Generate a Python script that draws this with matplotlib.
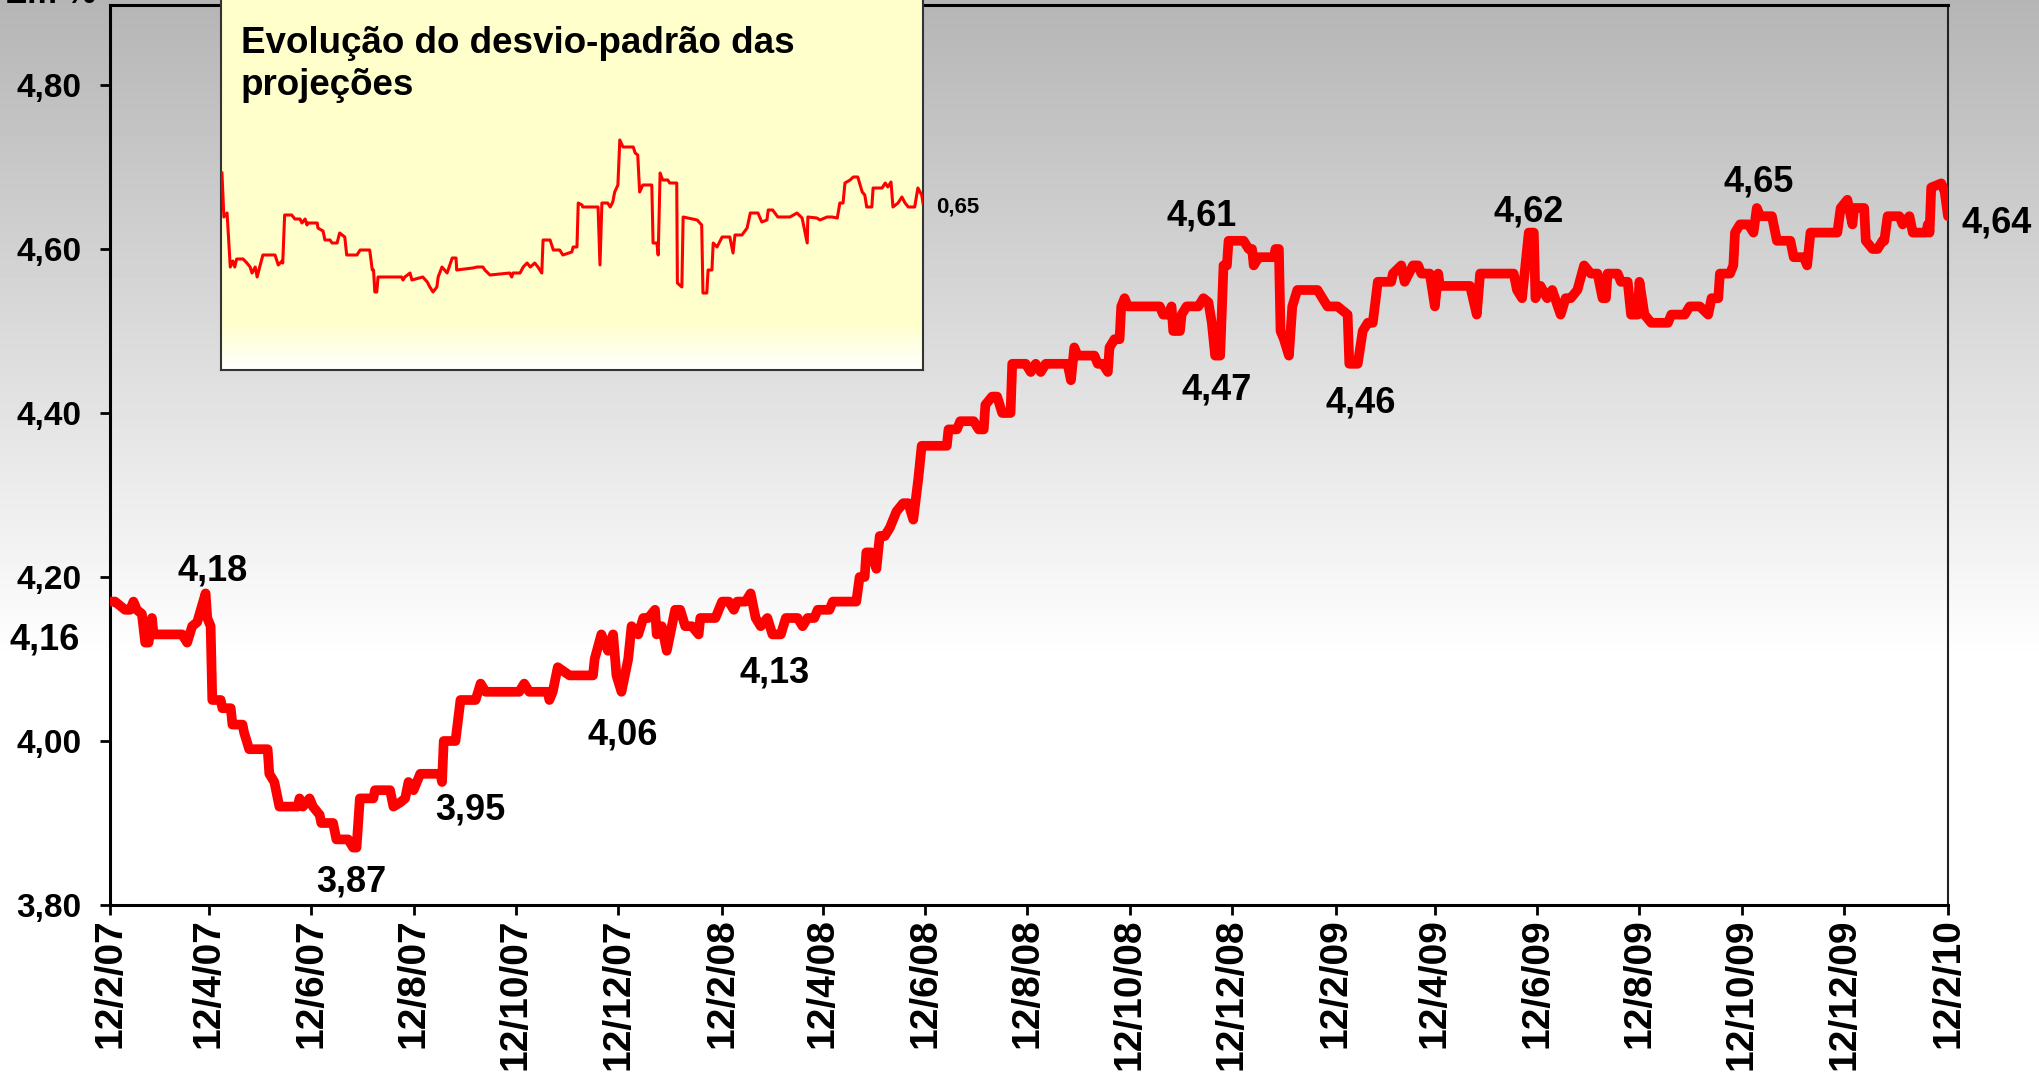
import numpy as np
import pandas as pd
import matplotlib
matplotlib.use("Agg")
import matplotlib.pyplot as plt

plt.rcParams['font.family'] = ['Liberation Sans', 'DejaVu Sans']
plt.rcParams['font.weight'] = 'bold'

start = pd.Timestamp('2007-02-12')

# media das projecoes (dias desde 12/2/07, valor em %)
main_days = [0, 3, 6, 9, 12, 14, 16, 19, 21, 23, 25, 26, 43, 46, 49, 52, 57, 58, 60, 61,
             66, 67, 72, 73, 79, 80, 83, 94, 95, 98, 101, 112, 113, 115, 119, 121, 125, 126,
             133, 135, 142, 145, 147, 149, 157, 158, 167, 169, 173, 176, 178, 181, 185, 197,
             198, 199, 206, 209, 218, 221, 224, 244, 247, 250, 261, 262, 264, 267, 274, 288,
             289, 293, 297, 300, 302, 305, 309, 311, 315, 318, 321, 325, 326, 329, 332, 337,
             340, 343, 347, 351, 352, 361, 365, 369, 372, 374, 379, 382, 385, 388, 392, 395,
             400, 403, 410, 413, 416, 420, 422, 429, 431, 445, 447, 450, 451, 454, 457, 459,
             462, 465, 469, 473, 476, 479, 482, 484, 499, 500, 505, 507, 515, 518, 521, 522,
             526, 529, 532, 537, 538, 546, 549, 552, 555, 558, 571, 573, 575, 577, 587, 589,
             592, 595, 596, 599, 602, 603, 605, 607, 626, 628, 631, 633, 634, 638, 639, 642,
             649, 652, 655, 657, 659, 662, 664, 666, 667, 676, 679, 681, 682, 685, 694, 695,
             697, 698, 700, 703, 705, 708, 720, 723, 726, 732, 738, 739, 744, 747, 750, 753,
             756, 764, 765, 770, 772, 777, 780, 782, 787, 790, 792, 793, 811, 815, 817, 820,
             837, 839, 842, 846, 849, 850, 853, 857, 860, 865, 868, 871, 875, 879, 883, 887,
             890, 892, 893, 899, 901, 905, 907, 911, 912, 915, 919, 929, 931, 939, 942, 948,
             953, 955, 959, 960, 966, 968, 969, 972, 977, 980, 982, 984, 991, 994, 999, 1002,
             1004, 1010, 1012, 1014, 1024, 1030, 1032, 1036, 1039, 1040, 1046, 1047, 1051,
             1054, 1057, 1058, 1060, 1067, 1069, 1073, 1075, 1083, 1084, 1085, 1086, 1092,
             1094, 1096]
main_vals = [4.17, 4.17, 4.165, 4.16, 4.16, 4.17, 4.16, 4.155, 4.12, 4.12, 4.15, 4.13, 4.13,
             4.12, 4.14, 4.145, 4.18, 4.15, 4.14, 4.05, 4.05, 4.04, 4.04, 4.02, 4.02, 4.01,
             3.99, 3.99, 3.96, 3.95, 3.92, 3.92, 3.93, 3.92, 3.93, 3.92, 3.91, 3.90, 3.90,
             3.88, 3.88, 3.87, 3.87, 3.93, 3.93, 3.94, 3.94, 3.92, 3.925, 3.93, 3.95, 3.94,
             3.96, 3.96, 3.95, 4.00, 4.00, 4.05, 4.05, 4.07, 4.06, 4.06, 4.07, 4.06, 4.06,
             4.05, 4.06, 4.09, 4.08, 4.08, 4.10, 4.13, 4.11, 4.13, 4.08, 4.06, 4.10, 4.14,
             4.13, 4.15, 4.15, 4.16, 4.13, 4.14, 4.11, 4.16, 4.16, 4.14, 4.14, 4.13, 4.15,
             4.15, 4.17, 4.17, 4.16, 4.17, 4.17, 4.18, 4.15, 4.14, 4.15, 4.13, 4.13, 4.15,
             4.15, 4.14, 4.15, 4.15, 4.16, 4.16, 4.17, 4.17, 4.20, 4.20, 4.23, 4.23, 4.21,
             4.25, 4.25, 4.26, 4.28, 4.29, 4.29, 4.27, 4.32, 4.36, 4.36, 4.38, 4.38, 4.39,
             4.39, 4.38, 4.38, 4.41, 4.42, 4.42, 4.40, 4.40, 4.46, 4.46, 4.45, 4.46, 4.45,
             4.46, 4.46, 4.44, 4.48, 4.47, 4.47, 4.46, 4.46, 4.45, 4.48, 4.49, 4.49, 4.53,
             4.54, 4.53, 4.53, 4.52, 4.52, 4.53, 4.50, 4.50, 4.52, 4.53, 4.53, 4.54, 4.535,
             4.51, 4.47, 4.47, 4.58, 4.58, 4.61, 4.61, 4.60, 4.60, 4.58, 4.59, 4.59, 4.60,
             4.60, 4.50, 4.49, 4.47, 4.53, 4.55, 4.55, 4.54, 4.53, 4.53, 4.52, 4.46, 4.46,
             4.50, 4.51, 4.51, 4.56, 4.56, 4.57, 4.58, 4.56, 4.58, 4.58, 4.57, 4.57, 4.53,
             4.57, 4.555, 4.555, 4.52, 4.57, 4.57, 4.57, 4.55, 4.54, 4.62, 4.62, 4.54, 4.555,
             4.54, 4.55, 4.52, 4.54, 4.54, 4.55, 4.58, 4.57, 4.57, 4.54, 4.54, 4.57, 4.57,
             4.56, 4.56, 4.52, 4.52, 4.56, 4.52, 4.51, 4.51, 4.52, 4.52, 4.53, 4.53, 4.52,
             4.54, 4.54, 4.57, 4.57, 4.58, 4.62, 4.63, 4.63, 4.62, 4.65, 4.64, 4.64, 4.61,
             4.61, 4.61, 4.59, 4.59, 4.58, 4.62, 4.62, 4.62, 4.65, 4.66, 4.63, 4.65, 4.65,
             4.61, 4.60, 4.60, 4.61, 4.61, 4.64, 4.64, 4.63, 4.64, 4.62, 4.62, 4.63, 4.62,
             4.675, 4.68, 4.67, 4.64]

# desvio-padrao das projecoes
sd_days = [0, 3, 8, 13, 17, 20, 23, 33, 39, 44, 47, 52, 55, 59, 64, 83, 88, 94, 95, 98, 109,
           114, 122, 125, 130, 133, 134, 149, 150, 158, 161, 169, 172, 180, 184, 192, 195,
           211, 216, 231, 235, 237, 239, 242, 244, 281, 283, 286, 294, 297, 314, 321, 325,
           330, 336, 338, 344, 352, 360, 366, 367, 392, 399, 408, 411, 419, 450, 453, 455,
           466, 471, 477, 482, 489, 494, 500, 502, 513, 518, 528, 533, 547, 549, 555, 557,
           563, 564, 588, 591, 594, 603, 607, 611, 614, 619, 622, 627, 643, 646, 650, 653,
           658, 672, 674, 680, 682, 685, 689, 697, 700, 711, 712, 719, 721, 743, 750, 752,
           758, 760, 766, 768, 774, 782, 794, 799, 802, 813, 821, 826, 838, 844, 852, 854,
           861, 869, 888, 899, 907, 915, 916, 930, 935, 946, 954, 962, 966, 971, 974, 982,
           987, 994, 1001, 1005, 1008, 1016, 1018, 1032, 1037, 1041, 1046, 1049, 1057, 1063,
           1068, 1073, 1083, 1088, 1094, 1096]
sd_vals = [0.725, 0.615, 0.625, 0.49, 0.505, 0.49, 0.51, 0.51, 0.50, 0.49, 0.475, 0.49, 0.465,
           0.49, 0.52, 0.52, 0.495, 0.505, 0.50, 0.62, 0.62, 0.61, 0.61, 0.60, 0.61, 0.595,
           0.60, 0.60, 0.5875, 0.58, 0.5575, 0.5575, 0.55, 0.55, 0.575, 0.565, 0.52, 0.52,
           0.5325, 0.5325, 0.4825, 0.4825, 0.4275, 0.4275, 0.465, 0.465, 0.4575, 0.465, 0.475,
           0.4575, 0.465, 0.4525, 0.44, 0.4275, 0.44, 0.465, 0.49, 0.475, 0.5125, 0.5125,
           0.4825, 0.4875, 0.49, 0.49, 0.4825, 0.47, 0.475, 0.465, 0.475, 0.475, 0.49, 0.50,
           0.49, 0.50, 0.49, 0.475, 0.5575, 0.5575, 0.5325, 0.5325, 0.52, 0.5275, 0.54, 0.54,
           0.65, 0.645, 0.64, 0.64, 0.495, 0.65, 0.65, 0.64, 0.6525, 0.6775, 0.695, 0.8075,
           0.79, 0.79, 0.775, 0.77, 0.6775, 0.695, 0.695, 0.55, 0.55, 0.52, 0.725, 0.7075,
           0.7075, 0.70, 0.70, 0.45, 0.44, 0.615, 0.6075, 0.595, 0.425, 0.425, 0.4825, 0.4825,
           0.55, 0.54, 0.565, 0.565, 0.525, 0.57, 0.57, 0.5875, 0.625, 0.625, 0.6025, 0.6075,
           0.6325, 0.6325, 0.615, 0.615, 0.625, 0.6125, 0.55, 0.615, 0.6125, 0.6075, 0.615,
           0.615, 0.6125, 0.65, 0.65, 0.70, 0.7075, 0.715, 0.715, 0.6775, 0.67, 0.64, 0.64,
           0.6875, 0.6875, 0.70, 0.69, 0.7025, 0.64, 0.65, 0.665, 0.65, 0.64, 0.64, 0.6875,
           0.67, 0.65]

tick_dates = pd.date_range('2007-02-01', '2010-02-01', freq='2MS') + pd.Timedelta(days=11)
tick_labels = [f"{d.day}/{d.month}/{d:%y}" for d in tick_dates]

# rotulos destacados: texto, dia, valor
ann_text = ['4,18', '4,16', '3,87', '3,95', '4,06', '4,13', '4,61', '4,47', '4,46', '4,62', '4,65', '4,64']
ann_day = [61, -39, 144, 215, 306, 396, 651, 660, 746, 846, 983, 1125]
ann_val = [4.196, 4.111, 3.816, 3.904, 3.996, 4.071, 4.629, 4.416, 4.401, 4.633, 4.670, 4.620]

main_x = start + pd.to_timedelta(main_days, unit='D')
sd_x = start + pd.to_timedelta(sd_days, unit='D')
end = start + pd.Timedelta(days=1096)

W, H = 2039, 1074
fig = plt.figure(figsize=(W / 100, H / 100), dpi=100)

# fundo em degrade
bg = fig.add_axes([0, 0, 1, 1], zorder=-10)
rows = np.arange(H)
grad = np.clip(0.71 + 0.29 * rows / 660.0, 0, 1)[:, None]
bg.imshow(grad, aspect='auto', cmap='gray', vmin=0, vmax=1, extent=[0, 1, 0, 1])
bg.axis('off')

ax = fig.add_axes([110 / W, 1 - 905 / H, (1948 - 110) / W, (905 - 5) / H])
ax.patch.set_alpha(0)
ax.plot(main_x, main_vals, color='#ff0000', lw=7, solid_joinstyle='round', solid_capstyle='round', zorder=3)
ax.set_xlim(start, end)
ax.set_ylim(3.80, 3.80 + 900 / 820)
ax.set_yticks([3.8, 4.0, 4.2, 4.4, 4.6, 4.8])
ax.set_yticklabels(['3,80', '4,00', '4,20', '4,40', '4,60', '4,80'], fontsize=24, fontweight='bold')
ax.set_xticks(tick_dates)
ax.set_xticklabels(tick_labels, rotation=90, fontsize=28, fontweight='bold')
ax.tick_params(axis='both', direction='out', length=7.5, width=2, color='black')
ax.tick_params(axis='y', pad=13)
ax.tick_params(axis='x', pad=2)
for s in ['left', 'bottom', 'top']:
    ax.spines[s].set_linewidth(2.2)
ax.spines['right'].set_linewidth(1.5)
ax.spines['right'].set_color('#222222')

for t, d, v in zip(ann_text, ann_day, ann_val):
    ax.text(start + pd.Timedelta(days=d), v, t, fontsize=26, fontweight='bold',
            ha='center', va='baseline', clip_on=False)

fig.text(5 / W, 1 - 3 / H, 'Em %', fontsize=24, fontweight='bold', va='baseline', ha='left')

# grafico interno
ins = fig.add_axes([221 / W, 1 - 370 / H, (923 - 221) / W, 372 / H], zorder=5)
x0 = start - pd.Timedelta(days=1.5)
ins.set_xlim(x0, end)
ylo, yhi = 0.65 - 167 / 400, 0.65 + 205 / 400
ins.set_ylim(ylo, yhi)
yel = np.ones((372, 1, 3))
fade = np.clip((np.arange(372) - 325) / 45.0, 0, 1)
yel[:, 0, 2] = 0.8 + 0.2 * fade
ins.imshow(yel, aspect='auto', extent=[x0, end, ylo, yhi], zorder=0)
ins.plot(sd_x, sd_vals, color='#ff0000', lw=2.2, zorder=3)
ins.set_xticks([])
ins.set_yticks([])
for s in ins.spines.values():
    s.set_linewidth(1.5)
    s.set_color('#333333')
ins.text(start + pd.Timedelta(days=1150), 0.625, '0,65', fontsize=16, fontweight='bold',
         ha='center', va='baseline', clip_on=False)
ins.text(0.028, (370 - 95) / 372, 'Evolução do desvio-padrão das\nprojeções', transform=ins.transAxes,
         fontsize=26.5, fontweight='bold', ha='left', va='baseline', linespacing=1.27)

fig.savefig('out.png', dpi=100)
